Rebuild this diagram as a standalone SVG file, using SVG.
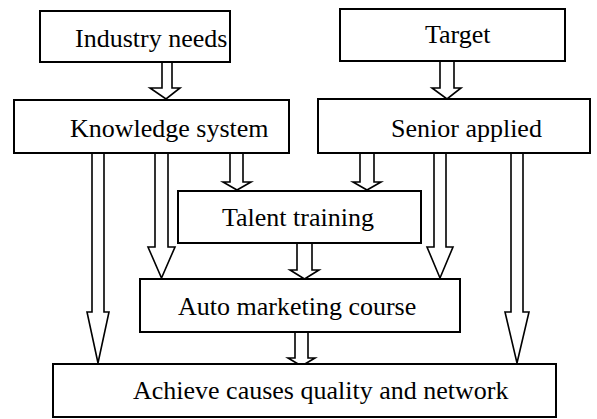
<svg xmlns="http://www.w3.org/2000/svg" width="597" height="419" viewBox="0 0 597 419">
<style>
.box{fill:#fff;stroke:#000;stroke-width:2}
.lbl{font-family:"Liberation Serif","Times New Roman",serif;font-size:26px;fill:#000}
.arr{fill:#fff;stroke:#000;stroke-width:1.6;stroke-linejoin:miter}
</style>
<rect width="597" height="419" fill="#fff"/>
<g id="connectors">
<path class="arr" d="M162,62 V88 H150 L166,99 L180,88 H172 V62"/>
<path class="arr" d="M440,61 V88 H432 L447,99 L461,88 H454 V61"/>
<path class="arr" d="M92,153 V312 H87 L98,363 L109,312 H104 V153"/>
<path class="arr" d="M155,153 V247 H148 L161.5,278 L175,247 H168 V153"/>
<path class="arr" d="M230,153 V182 H223 L237,190 L251,182 H243 V153"/>
<path class="arr" d="M360,153 V182 H353 L367,190 L381,182 H374 V153"/>
<path class="arr" d="M434,153 V247 H427 L440,278 L453,247 H446 V153"/>
<path class="arr" d="M511,153 V312 H505 L517,363 L529,312 H523 V153"/>
<path class="arr" d="M297,243 V270 H290 L304.5,279 L319,270 H312 V243"/>
<path class="arr" d="M295,332 V358 H288 L301.5,366 L315,358 H308 V332"/>
</g>
<g id="industry-needs">
<rect class="box" x="40" y="11" width="190" height="51"/>
<text class="lbl" x="75" y="47">Industry needs</text>
</g>
<g id="target">
<rect class="box" x="340" y="9" width="225" height="52"/>
<text class="lbl" x="425" y="43">Target</text>
</g>
<g id="knowledge-system">
<rect class="box" x="14" y="100" width="275" height="53"/>
<text class="lbl" x="70" y="137">Knowledge system</text>
</g>
<g id="senior-applied">
<rect class="box" x="318" y="99" width="272" height="54"/>
<text class="lbl" x="391" y="137">Senior applied</text>
</g>
<g id="talent-training">
<rect class="box" x="178" y="191" width="243" height="52"/>
<text class="lbl" x="222" y="226">Talent training</text>
</g>
<g id="auto-marketing-course">
<rect class="box" x="140" y="279" width="320" height="53"/>
<text class="lbl" x="178" y="315">Auto marketing course</text>
</g>
<g id="achieve">
<rect class="box" x="53" y="364" width="503" height="53"/>
<text class="lbl" x="133" y="399">Achieve causes quality and network</text>
</g>
</svg>
